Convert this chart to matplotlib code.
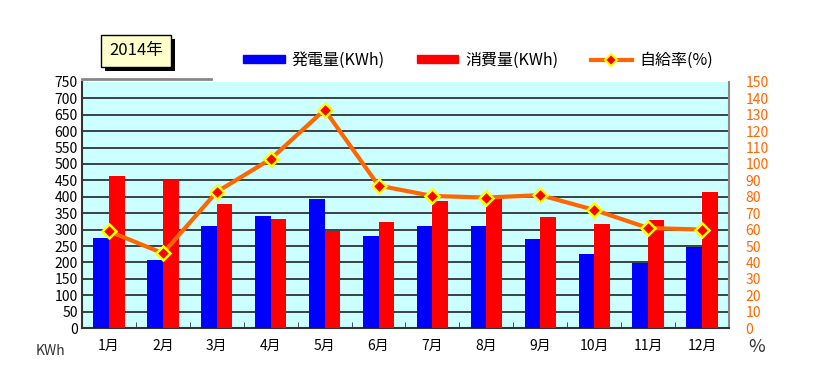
import numpy as np
import matplotlib
matplotlib.use("Agg")
from matplotlib import pyplot as plt
from matplotlib.lines import Line2D
from matplotlib.patches import Patch, Rectangle

plt.rcParams['font.family'] = ['Noto Sans CJK JP', 'DejaVu Sans']

months = ['1月', '2月', '3月', '4月', '5月', '6月', '7月', '8月', '9月', '10月', '11月', '12月']
generated = [274, 207, 311, 341, 393, 280, 311, 311, 271, 225, 198, 247]
consumed = [462, 452, 378, 332, 295, 323, 387, 395, 338, 317, 329, 415]
self_rate = [59, 45.6, 83, 103, 133, 86.8, 80.5, 79.5, 81, 72, 61, 60]

ORANGE = '#FF6600'
W, H = 821.0, 372.0

fig = plt.figure(figsize=(8.21, 3.72), dpi=100)
ax = fig.add_axes([0.0999, 0.118, 0.788, 0.662])
ax.set_facecolor('#CCFFFF')

x = np.arange(len(months))
w = 0.29
ax.bar(x - w / 2, generated, w, color='#0000FF', zorder=3)
ax.bar(x + w / 2, consumed, w, color='#FF0000', zorder=3)

for v in range(50, 750, 50):
    ax.axhline(v, color='#111111', lw=1.1, zorder=1)

ax.set_xlim(-0.5, len(months) - 0.5)
ax.set_ylim(0, 750)
ax.set_yticks(range(0, 751, 50))
ax.set_xticks(x)
ax.set_xticklabels(months, fontsize=10)
ax.set_xticks(np.arange(0.5, len(months) - 1, 1), minor=True)
ax.tick_params(axis='x', which='major', length=0, pad=8)
ax.tick_params(axis='x', which='minor', direction='in', length=4, color='#333333')
ax.tick_params(axis='y', length=0, labelsize=10, pad=3)

ax.spines['top'].set_visible(False)
ax.spines['left'].set_color('#333333')
ax.spines['bottom'].set_color('#333333')
ax.spines['left'].set_linewidth(1.5)
ax.spines['bottom'].set_linewidth(1.5)
ax.spines['right'].set_color('#888888')
ax.spines['right'].set_linewidth(1.5)
# partial top border
ax.plot([0, 0.2], [1.01, 1.01], transform=ax.transAxes, color='#888888', lw=2, clip_on=False)

ax2 = ax.twinx()
ax2.plot(x, self_rate, color=ORANGE, lw=3, marker='D', markersize=7,
         markerfacecolor='#FF0000', markeredgecolor='#FFFF00', markeredgewidth=1.8, zorder=5)
ax2.set_ylim(0, 150)
ax2.set_yticks(range(0, 151, 10))
ax2.tick_params(axis='y', length=0, labelsize=10, labelcolor=ORANGE, pad=12)
for s in ax2.spines.values():
    s.set_visible(False)

fig.text(0.062, 0.045, 'KWh', fontsize=10, color='#333333', ha='center')
fig.text(0.921, 0.055, '%', fontsize=13, color='#333333', ha='center')

# year box with shadow (pixel coords from top-left)
def px_rect(x0, y0, x1, y1, **kw):
    return Rectangle((x0 / W, 1 - y1 / H), (x1 - x0) / W, (y1 - y0) / H,
                     transform=fig.transFigure, **kw)

fig.add_artist(px_rect(105, 39, 175, 71, fc='black', ec='none', zorder=1))
fig.add_artist(px_rect(101, 35, 171, 67, fc='#FFFFCC', ec='black', lw=1, zorder=2))
fig.text(136 / W, 1 - 51 / H, '2014年', fontsize=12, ha='center', va='center', zorder=3)

handles = [Patch(color='#0000FF'), Patch(color='#FF0000'),
           Line2D([0], [0], color=ORANGE, lw=3, marker='D', markersize=6,
                  markerfacecolor='#FF0000', markeredgecolor='#FFFF00', markeredgewidth=1.5)]
fig.legend(handles, ['発電量(KWh)', '消費量(KWh)', '自給率(%)'], ncol=3,
           loc='center', bbox_to_anchor=(478 / W, 1 - 60 / H), frameon=False, fontsize=11.5,
           handlelength=2.6, handleheight=0.45, columnspacing=2.0, handletextpad=0.45)

fig.savefig('out.png', dpi=100)
